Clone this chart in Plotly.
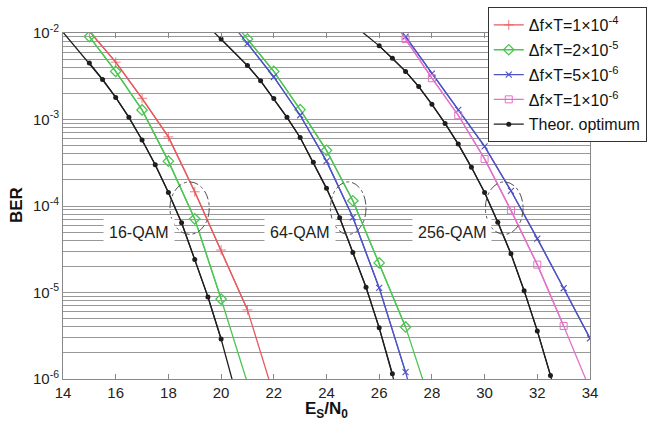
import plotly.graph_objects as go
import math

# ---------------- data ----------------
# Theoretical optimum curves (markers) + line extensions beyond plot edges
th16_x = [15, 15.5, 16, 16.5, 17, 17.5, 18, 18.5, 19, 19.5, 20]
th16_y = [4.5e-3, 2.9e-3, 1.8e-3, 1.06e-3, 5.8e-4, 3.0e-4, 1.43e-4, 6.4e-5, 2.4e-5, 8.9e-6, 2.9e-6]
th16_ext_x = [14, 20.5]
th16_ext_y = [1.02e-2, 8e-7]

th64_x = [20, 21, 21.5, 22, 22.5, 23, 23.5, 24, 24.5, 25, 25.5, 26, 26.5]
th64_y = [8.5e-3, 4.2e-3, 2.8e-3, 1.75e-3, 1.06e-3, 6.2e-4, 3.2e-4, 1.6e-4, 7.3e-5, 2.9e-5, 1.15e-5, 3.9e-6, 1.15e-6]
th64_ext_x = [19.5, 27]
th64_ext_y = [1.2e-2, 3.2e-7]

th256_x = [26, 26.5, 27, 27.5, 28, 28.5, 29, 29.5, 30, 30.5, 31, 31.5, 32, 32.5]
th256_y = [7.1e-3, 5.1e-3, 3.6e-3, 2.4e-3, 1.5e-3, 9.0e-4, 5.2e-4, 2.8e-4, 1.43e-4, 6.5e-5, 2.8e-5, 1.05e-5, 3.6e-6, 1.1e-6]
th256_ext_x = [25, 33]
th256_ext_y = [1.26e-2, 3e-7]

# df*T = 1e-4 (16-QAM)
red16_x = [15, 16, 17, 18, 19, 20, 21]
red16_y = [1.05e-2, 4.6e-3, 1.76e-3, 6.3e-4, 1.46e-4, 3.1e-5, 6.3e-6]
red16_ext_x = [22]
red16_ext_y = [6.5e-7]

# df*T = 2e-5 (16-QAM and 64-QAM)
grn16_x = [15, 16, 17, 18, 19, 20]
grn16_y = [9.1e-3, 3.6e-3, 1.29e-3, 3.3e-4, 7.1e-5, 8.4e-6]
grn16_ext_x = [21]
grn16_ext_y = [9e-7]

grn64_x = [21, 22, 23, 24, 25, 26, 27]
grn64_y = [8.5e-3, 3.6e-3, 1.3e-3, 4.4e-4, 1.15e-4, 2.2e-5, 4.0e-6]
grn64_ext_x = [20, 28]
grn64_ext_y = [2.0e-2, 4.7e-7]

# df*T = 5e-6 (64-QAM and 256-QAM)
blu64_x = [21, 22, 23, 24, 25, 26, 27]
blu64_y = [7.6e-3, 3.1e-3, 1.12e-3, 3.3e-4, 7.4e-5, 1.13e-5, 1.2e-6]
blu64_ext_x = [20, 28]
blu64_ext_y = [1.8e-2, 1e-7]

blu256_x = [27, 28, 29, 30, 31, 32, 33, 34]
blu256_y = [9.1e-3, 3.4e-3, 1.29e-3, 4.9e-4, 1.5e-4, 4.2e-5, 1.12e-5, 2.95e-6]
blu256_ext_x = [26]
blu256_ext_y = [2.4e-2]

# df*T = 1e-6 (256-QAM)
mag256_x = [27, 28, 29, 30, 31, 32, 33]
mag256_y = [8.5e-3, 3.0e-3, 1.12e-3, 3.5e-4, 8.9e-5, 2.1e-5, 4.1e-6]
mag256_ext_x = [26, 34]
mag256_ext_y = [2.4e-2, 7.6e-7]

legend_names = ["Δf×T=1×10<sup>-4</sup>", "Δf×T=2×10<sup>-5</sup>",
                "Δf×T=5×10<sup>-6</sup>", "Δf×T=1×10<sup>-6</sup>", "Theor. optimum"]

qam_labels = ["16-QAM", "64-QAM", "256-QAM"]
qam_label_x = [16.87, 23.0, 28.78]
qam_label_y = 4.9e-5

ellipse_x = [(18.06, 19.55), (24.15, 25.5), (30.03, 31.46)]
ellipse_y = (4.7e-5, 1.9e-4)

x_ticks = [14, 16, 18, 20, 22, 24, 26, 28, 30, 32, 34]
y_decades = [-6, -5, -4, -3, -2]

# ---------------- styling ----------------
RED = "#E85A60"
GRN = "#4CC552"
BLU = "#4E52C6"
MAG = "#E272C8"
BLK = "#1E1E1E"
FONT = "Liberation Sans, Arial, sans-serif"

fig = go.Figure()

def add_series(segments, name, color, symbol, msize, mline, group=None):
    first = True
    for (mx, my, ex, ey) in segments:
        pts = sorted(list(zip(mx, my)) + list(zip(ex, ey)))
        fig.add_trace(go.Scatter(
            x=[p[0] for p in pts], y=[p[1] for p in pts], mode="lines",
            line=dict(color=color, width=1.3), showlegend=False,
            legendgroup=group, hoverinfo="skip"))
        fig.add_trace(go.Scatter(
            x=mx, y=my, mode="lines+markers", name=name,
            line=dict(color=color, width=1.3),
            marker=dict(symbol=symbol, size=msize, color=color,
                        line=dict(color=color, width=mline)),
            showlegend=first, legendgroup=group))
        first = False

add_series([(red16_x, red16_y, red16_ext_x, red16_ext_y)], legend_names[0], RED, "cross-thin", 7, 0.8, group="a")
add_series([(grn16_x, grn16_y, grn16_ext_x, grn16_ext_y),
            (grn64_x, grn64_y, grn64_ext_x, grn64_ext_y)], legend_names[1], GRN, "diamond-open", 8, 1.3, group="b")
add_series([(blu64_x, blu64_y, blu64_ext_x, blu64_ext_y),
            (blu256_x, blu256_y, blu256_ext_x, blu256_ext_y)], legend_names[2], BLU, "x-thin", 6, 1.1, group="c")
add_series([(mag256_x, mag256_y, mag256_ext_x, mag256_ext_y)], legend_names[3], MAG, "square-open", 7, 1.0, group="d")
add_series([(th16_x, th16_y, th16_ext_x, th16_ext_y),
            (th64_x, th64_y, th64_ext_x, th64_ext_y),
            (th256_x, th256_y, th256_ext_x, th256_ext_y)], legend_names[4], BLK, "circle", 5, 0, group="e")

# y ticks at decades, minor grid at 2..9 x 10^k
y_tickvals = [10 ** d for d in y_decades]
y_ticktext = [f"10<sup>{d}</sup>" for d in y_decades]
y_minorvals = [m * 10 ** d for d in y_decades[:-1] for m in range(2, 10)]

for (x0, x1) in ellipse_x:
    fig.add_shape(type="circle", xref="x", yref="y", x0=x0, x1=x1,
                  y0=ellipse_y[0], y1=ellipse_y[1],
                  line=dict(color="#505050", width=1, dash="dashdot"), layer="above")

for lab, lx in zip(qam_labels, qam_label_x):
    fig.add_annotation(x=lx, y=math.log10(qam_label_y), text=lab, showarrow=False,
                       font=dict(family=FONT, size=16, color="#222"),
                       bgcolor="white", borderpad=5)

fig.add_annotation(xref="paper", yref="paper", x=0.5, y=-0.09, text="<b>E<sub>S</sub>/N<sub>0</sub></b>",
                   showarrow=False, font=dict(family=FONT, size=17, color="#111"),
                   xanchor="center", yanchor="middle")
fig.add_annotation(xref="paper", yref="paper", x=-0.087, y=0.503, text="<b>BER</b>", textangle=-90,
                   showarrow=False, font=dict(family=FONT, size=17, color="#111"),
                   xanchor="center", yanchor="middle")

fig.update_layout(
    width=648, height=426,
    margin=dict(l=63, r=58, t=33, b=47, autoexpand=False),
    paper_bgcolor="white", plot_bgcolor="white",
    font=dict(family=FONT, size=15, color="#222"),
    showlegend=True,
    legend=dict(x=0.806, y=1.075, xanchor="left", yanchor="top",
                bgcolor="white", bordercolor="#333", borderwidth=1,
                font=dict(family=FONT, size=16, color="#111"),
                tracegroupgap=1, itemwidth=30),
    xaxis=dict(range=[14, 34], tickvals=x_ticks, showgrid=False, zeroline=False,
               showline=True, linecolor="#888", linewidth=1, mirror="ticks",
               ticks="inside", ticklen=5, tickcolor="#888", automargin=False,
               tickfont=dict(family=FONT, size=15, color="#222")),
    yaxis=dict(type="log", range=[-6, -2], tickvals=y_tickvals, ticktext=y_ticktext,
               showgrid=True, gridcolor="#999999", gridwidth=1, zeroline=False,
               showline=True, linecolor="#888", linewidth=1, mirror=True, ticks="",
               automargin=False,
               minor=dict(tickvals=y_minorvals, showgrid=True, gridcolor="#999999",
                          gridwidth=1, ticks=""),
               tickfont=dict(family=FONT, size=15, color="#222")),
)

fig.write_html("out.html", config={"displayModeBar": False},
               post_script="document.body.style.margin='0px';document.body.style.overflow='hidden';")
